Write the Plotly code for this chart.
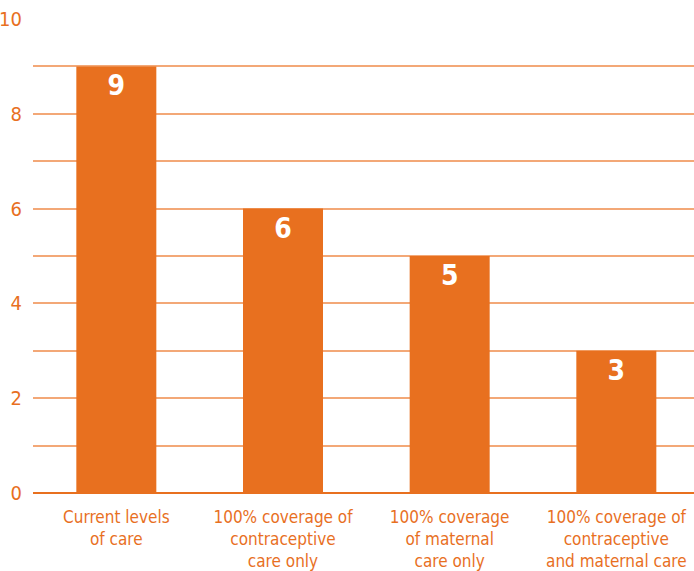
import plotly.graph_objects as go

categories = [
    "Current levels<br>of care",
    "100% coverage of<br>contraceptive<br>care only",
    "100% coverage<br>of maternal<br>care only",
    "100% coverage of<br>contraceptive<br>and maternal care",
]
values = [9, 6, 5, 3]
y_ticks = [0, 2, 4, 6, 8, 10]

ORANGE = "#E8701F"
GRID = "#F3A877"
FONT = "Liberation Sans Narrow, DejaVu Sans Condensed, Arial Narrow, sans-serif"

fig = go.Figure(
    go.Bar(
        x=list(range(len(categories))),
        y=values,
        width=0.48,
        marker=dict(color=ORANGE, line=dict(width=0)),
        text=[str(v) for v in values],
        textposition="inside",
        insidetextanchor="end",
        textfont=dict(color="white", size=28, family=FONT, weight="bold"),
        hoverinfo="skip",
    )
)

fig.update_layout(
    width=694,
    height=571,
    margin=dict(l=33, r=0, t=19, b=78),
    paper_bgcolor="white",
    plot_bgcolor="white",
    showlegend=False,
    font=dict(family=FONT, color=ORANGE),
)

fig.update_xaxes(
    range=[-0.5, 3.466],
    tickmode="array",
    tickvals=list(range(len(categories))),
    ticktext=categories,
    tickfont=dict(size=17, color=ORANGE, family=FONT),
    showgrid=False,
    showline=False,
    zeroline=False,
    ticks="",
    ticklabelstandoff=12,
    automargin=False,
)

fig.update_yaxes(
    range=[0, 10],
    tickmode="array",
    tickvals=y_ticks,
    ticktext=[str(t) for t in y_ticks],
    tickfont=dict(size=20, color=ORANGE, family=FONT),
    showgrid=True,
    gridcolor=GRID,
    gridwidth=1.5,
    minor=dict(dtick=1, showgrid=True, gridcolor=GRID, gridwidth=1.5),
    zeroline=True,
    zerolinecolor=ORANGE,
    zerolinewidth=2,
    showline=False,
    ticks="",
    ticklabelstandoff=10,
    automargin=False,
)

fig.write_html(
    "out.html",
    config={"displayModeBar": False},
    post_script="document.body.style.margin='0';document.body.style.overflow='hidden';",
)
